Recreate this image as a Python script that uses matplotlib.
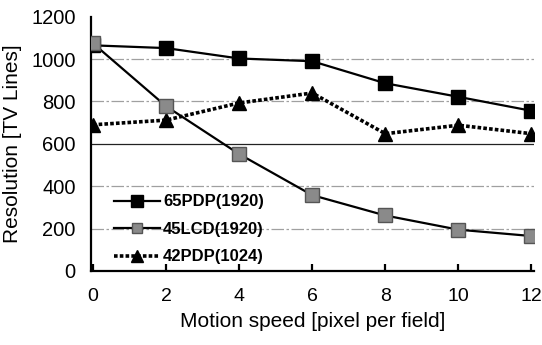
import numpy as np
import matplotlib
matplotlib.use('Agg')
import matplotlib.pyplot as plt

plt.rcParams['font.family'] = ['Liberation Sans', 'DejaVu Sans']

speed = [0, 2, 4, 6, 8, 10, 12]
pdp65 = [1065, 1052, 1003, 990, 886, 822, 756]
lcd45 = [1075, 778, 552, 358, 262, 195, 165]
pdp42 = [690, 712, 793, 840, 648, 688, 648]
labels = ['65PDP(1920)', '45LCD(1920)', '42PDP(1024)']
yticks = [0, 200, 400, 600, 800, 1000, 1200]

fig = plt.figure(figsize=(5.42, 3.45), dpi=100)
ax = fig.add_axes([0.168, 0.2145, 0.818, 0.737])

#grid lines, scanned look
for yv in [200, 400, 800, 1000]:
    ax.axhline(yv, color='#a0a0a0', lw=0.9, ls=(0, (10, 2, 2, 2)), zorder=0)
ax.axhline(600, color='#222222', lw=0.9, zorder=0)

ax.plot(speed, pdp65, color='black', lw=1.6, marker='s', ms=10,
        mfc='black', mec='black', label=labels[0], zorder=3)
ax.plot(speed, lcd45, color='black', lw=1.6, marker='s', ms=9.5,
        mfc='#8a8a8a', mec='#555555', mew=1.0, label=labels[1], zorder=4)
ax.plot(speed, pdp42, color='black', lw=2.6, ls=(0, (1.0, 0.6)), marker='^', ms=10.5,
        mfc='black', mec='black', label=labels[2], zorder=3)

ax.set_xlim(-0.05, 12.08)
ax.set_ylim(0, 1200)
ax.set_xticks(speed)
ax.set_yticks(yticks)
ax.spines['top'].set_visible(False)
ax.spines['right'].set_visible(False)
ax.spines['left'].set_linewidth(1.6)
ax.spines['bottom'].set_linewidth(1.6)
ax.tick_params(axis='x', direction='in', length=5, width=1.6, pad=12, labelsize=14)
ax.tick_params(axis='y', length=0, pad=11, labelsize=14.5)

ax.set_xlabel('Motion speed [pixel per field]', fontsize=15, labelpad=5)
ax.set_ylabel('Resolution [TV Lines]', fontsize=15, labelpad=7)

leg = ax.legend(loc='lower left', bbox_to_anchor=(0.025, -0.02), frameon=False,
                prop={'weight': 'bold', 'size': 12}, handlelength=2.8,
                handletextpad=0.15, labelspacing=0.75, borderaxespad=0.3,
                markerscale=0.8)

fig.savefig('out.png', dpi=100)
